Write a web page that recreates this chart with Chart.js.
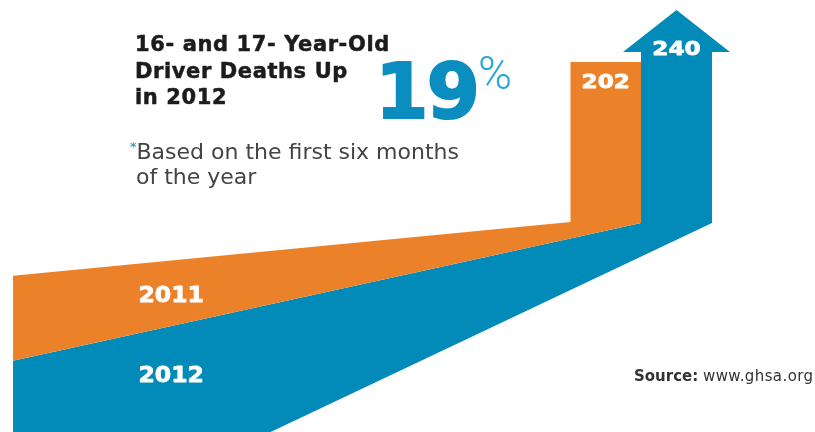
<!DOCTYPE html>
<html>
<head>
<meta charset="utf-8">
<script src="https://cdn.jsdelivr.net/npm/chart.js@4.4.1/dist/chart.umd.min.js"></script>
<style>
html,body{margin:0;padding:0;background:#fff;}
#wrap{position:relative;width:815px;height:432px;overflow:hidden;background:#fff;}
#wrap canvas{position:absolute;left:0;top:0;}
.t{position:absolute;white-space:nowrap;font-family:'DejaVu Sans',sans-serif;}
#title{left:135px;top:31.2px;font-size:21px;font-weight:bold;line-height:26.6px;letter-spacing:0.6px;color:#1c1c1c;-webkit-text-stroke:0.5px #1c1c1c;}
#big{left:375px;top:52.8px;font-size:77px;font-weight:bold;line-height:77px;letter-spacing:-2px;color:#0b8dc0;-webkit-text-stroke:2px #0b8dc0;}
#pct{left:478px;top:50px;font-family:Roboto,'Open Sans',sans-serif;font-weight:300;font-size:46px;line-height:46px;color:#27a6d8;}
#note1{left:130px;top:139px;font-size:22px;line-height:25px;color:#444;}
#note1 span{color:#0b8dc0;font-size:13px;position:relative;top:-8px;}
#note2{left:136px;top:164px;font-size:22px;line-height:25px;color:#444;}
#src{left:634px;top:369px;font-size:15px;line-height:15px;color:#333;}
#src i{font-style:normal;letter-spacing:0.4px;}
</style>
</head>
<body>
<div id="wrap">
<canvas id="c" width="815" height="432"></canvas>
<div class="t" id="title">16- and 17- Year-Old<br>Driver Deaths Up<br>in 2012</div>
<div class="t" id="big">19</div>
<div class="t" id="pct">%</div>
<div class="t" id="note1"><span>*</span>Based on the first six months</div>
<div class="t" id="note2">of the year</div>
<div class="t" id="src"><b>Source:</b> <i>www.ghsa.org</i></div>
</div>
<script>
// ---- data ----
const categories = ['2011', '2012'];
const values = [202, 240];            // teen driver deaths, first six months
const seriesColors = ['rgb(235,130,41)', 'rgb(2,138,185)'];

// ---- layout (positions / sizes, in axis units) ----
const Y_MIN = -68.4, Y_MAX = 247.3;
const X_MIN = 0, X_MAX = 100;
const RIBBON_LEFT = 1.6;
const ORANGE_COL = {left: 70.0, right: 78.65};
const BLUE_COL = {left: 78.65, right: 87.36, headLeft: 76.44, headRight: 89.57, headHeight: 30.7};
const BEND_Y = {orangeTop: 85.1, shared: 84.4};
const LEFT_Y = {orangeTop: 45.7, boundary: -16.4};
const BLUE_BOTTOM_X = 32.5;
const YEAR_LABEL_X = 21.0;
const YEAR_LABEL_Y = [26.7, -31.7];
const VALUE_LABEL_DY = [26, 45];      // pixels below the value position

function orangeShape(v) {
  return [
    {x: RIBBON_LEFT, y: LEFT_Y.orangeTop},
    {x: ORANGE_COL.left, y: BEND_Y.orangeTop},
    {x: ORANGE_COL.left, y: v},
    {x: ORANGE_COL.right, y: v},
    {x: ORANGE_COL.right, y: BEND_Y.shared},
    {x: RIBBON_LEFT, y: LEFT_Y.boundary}
  ];
}
function blueShape(v) {
  const base = v - BLUE_COL.headHeight;
  const mid = (BLUE_COL.headLeft + BLUE_COL.headRight) / 2;
  return [
    {x: RIBBON_LEFT, y: LEFT_Y.boundary},
    {x: BLUE_COL.left, y: BEND_Y.shared},
    {x: BLUE_COL.left, y: base},
    {x: BLUE_COL.headLeft, y: base},
    {x: mid, y: v},
    {x: BLUE_COL.headRight, y: base},
    {x: BLUE_COL.right, y: base},
    {x: BLUE_COL.right, y: BEND_Y.shared},
    {x: BLUE_BOTTOM_X, y: Y_MIN - 2},
    {x: RIBBON_LEFT, y: Y_MIN - 2}
  ];
}
const shapes = [orangeShape(values[0]), blueShape(values[1])];
const labelX = [(ORANGE_COL.left + ORANGE_COL.right) / 2, (BLUE_COL.headLeft + BLUE_COL.headRight) / 2];

function drawWide(ctx, text, cx, by, size, sx) {
  ctx.save();
  ctx.translate(cx, by);
  ctx.scale(sx, 1);
  ctx.font = 'bold ' + size + 'px "DejaVu Sans"';
  ctx.fillStyle = '#ffffff';
  ctx.strokeStyle = '#ffffff';
  ctx.lineWidth = 0.8;
  ctx.lineJoin = 'round';
  ctx.textAlign = 'center';
  ctx.textBaseline = 'alphabetic';
  ctx.fillText(text, 0, 0);
  ctx.strokeText(text, 0, 0);
  ctx.restore();
}

const labelPlugin = {
  id: 'arrowLabels',
  afterDatasetsDraw(chart) {
    const {ctx, scales: {x, y}} = chart;
    values.forEach((v, i) => {
      drawWide(ctx, String(v), x.getPixelForValue(labelX[i]), y.getPixelForValue(v) + VALUE_LABEL_DY[i], 19, 1.22);
    });
    categories.forEach((c, i) => {
      drawWide(ctx, c, x.getPixelForValue(YEAR_LABEL_X), y.getPixelForValue(YEAR_LABEL_Y[i]), 21, 1.12);
    });
  }
};

new Chart(document.getElementById('c'), {
  type: 'line',
  data: {
    datasets: categories.map((c, i) => ({
      label: c,
      data: shapes[i],
      backgroundColor: seriesColors[i],
      borderColor: seriesColors[i],
      borderWidth: 0,
      pointRadius: 0,
      tension: 0,
      fill: 'shape'
    }))
  },
  options: {
    responsive: false,
    devicePixelRatio: 1,
    animation: false,
    layout: {padding: 0},
    plugins: {legend: {display: false}, tooltip: {enabled: false}, title: {display: false}},
    scales: {
      x: {type: 'linear', min: X_MIN, max: X_MAX, display: false},
      y: {type: 'linear', min: Y_MIN, max: Y_MAX, display: false}
    }
  },
  plugins: [labelPlugin]
});
</script>
</body>
</html>
